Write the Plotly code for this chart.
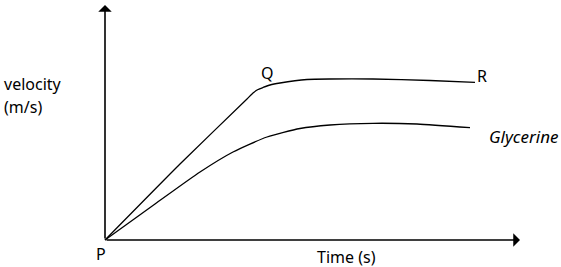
import plotly.graph_objects as go

# Data (time, velocity) in arbitrary units
water_t = [0, 75, 142, 148, 153, 158, 165, 175, 202, 225, 268, 325, 370]
water_v = [0, 76, 141, 147, 150.5, 152.5, 155, 157, 160.5, 161, 161, 159.5, 157.7]

gly_t = [0, 50, 95, 128, 162, 195, 225, 268, 312, 365]
gly_v = [0, 36, 68, 88, 103, 111.5, 115, 116.7, 116, 112.3]

FONT = "Noto Sans"

fig = go.Figure()
fig.add_trace(go.Scatter(x=water_t, y=water_v, mode="lines",
                         line=dict(color="black", width=1.3, shape="spline", smoothing=0.5),
                         showlegend=False, hoverinfo="skip"))
fig.add_trace(go.Scatter(x=gly_t, y=gly_v, mode="lines",
                         line=dict(color="black", width=1.3, shape="spline", smoothing=0.6),
                         showlegend=False, hoverinfo="skip"))

# Axis arrows
fig.add_annotation(x=0, y=235, ax=0, ay=0, axref="x", ayref="y", xref="x", yref="y",
                   text="", showarrow=True, arrowhead=1, arrowsize=1.4, arrowwidth=1.6,
                   arrowcolor="black")
fig.add_annotation(x=415, y=0, ax=0, ay=0, axref="x", ayref="y", xref="x", yref="y",
                   text="", showarrow=True, arrowhead=1, arrowsize=1.4, arrowwidth=1.6,
                   arrowcolor="black")

labels = [
    (-103, 156, "velocity", "normal", "left", 16),
    (-103, 133, "(m/s)", "normal", "left", 16),
    (162, 167, "Q", "normal", "center", 16),
    (377, 164, "R", "normal", "center", 16),
    (382, 104, "Glycerine", "italic", "left", 17),
    (241, -17, "Time (s)", "normal", "center", 16),
    (-4, -14, "P", "normal", "center", 16),
]
for x, y, t, st, anc, sz in labels:
    fig.add_annotation(x=x, y=y, xref="x", yref="y", text=t, showarrow=False,
                       font=dict(family=FONT, size=sz, color="black", style=st),
                       xanchor=anc, yanchor="middle")

fig.update_layout(
    width=561, height=267,
    margin=dict(l=0, r=0, t=0, b=0),
    plot_bgcolor="white", paper_bgcolor="white",
    xaxis=dict(range=[-105, 456], visible=False, fixedrange=True),
    yaxis=dict(range=[-27, 240], visible=False, fixedrange=True),
)
fig.write_html("out.html")
